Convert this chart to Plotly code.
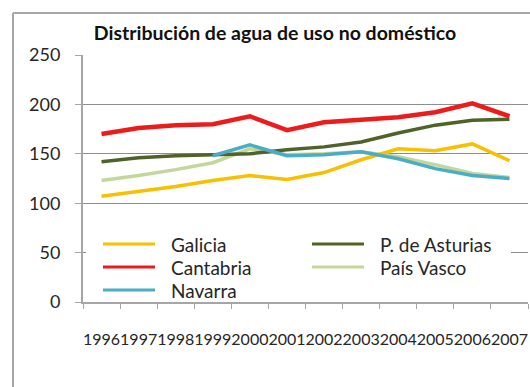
import plotly.graph_objects as go

# Water distributed for non-domestic use, by autonomous community
years = ["1996", "1997", "1998", "1999", "2000", "2001",
         "2002", "2003", "2004", "2005", "2006", "2007"]

galicia = [107, 112, 117, 123, 128, 124, 131, 144, 155, 153, 160, 143]
cantabria = [170, 176, 179, 180, 188, 174, 182, 185, 187, 192, 201, 188]
navarra = [None, None, None, 148, 159, 148, 149, 152, 145, 135, 128, 125]
asturias = [142, 146, 148, 149, 150, 154, 157, 162, 171, 179, 184, 185]
pais_vasco = [123, 128, 134, 141, 155, 149, 150, 152, 147, 139, 130, 126]

y_ticks = [0, 50, 100, 150, 200, 250]

series = [
    # name, values, colour, line width
    ("País Vasco", pais_vasco, "#C3D69B", 3.5),
    ("P. de Asturias", asturias, "#4F6228", 3.5),
    ("Galicia", galicia, "#F7C000", 3.5),
    ("Navarra", navarra, "#4BACC6", 3.5),
    ("Cantabria", cantabria, "#EC1C1C", 4.5),
]

# figure geometry (pixels)
W, H = 530, 387
L, R, T, B = 83, 528, 55, 302
PW, PH = R - L, B - T


def px_x(x):
    return (x - L) / PW


def px_y(y):
    return (B - y) / PH


FONT = "Lato, Open Sans, sans-serif"
GRID = "#8E8E8E"
AXIS = "#A6A6A6"
TEXT = "#262626"

fig = go.Figure()
for name, vals, color, width in series:
    fig.add_trace(go.Scatter(
        x=years, y=vals, name=name, mode="lines",
        line=dict(color=color, width=width),
        showlegend=False,
    ))

shapes = []
annotations = []

# outer chart-area frame (left and top edges visible)
shapes.append(dict(type="line", xref="paper", yref="paper",
                   x0=px_x(13), x1=px_x(13), y0=px_y(13), y1=px_y(400),
                   line=dict(color="#A6A6A6", width=2)))
shapes.append(dict(type="line", xref="paper", yref="paper",
                   x0=px_x(13), x1=px_x(545), y0=px_y(13), y1=px_y(13),
                   line=dict(color="#A6A6A6", width=2)))

# legend box
shapes.append(dict(type="rect", xref="paper", yref="paper", layer="above",
                   x0=px_x(86), x1=px_x(511), y0=px_y(224), y1=px_y(299),
                   fillcolor="white", line=dict(width=0)))

legend_layout = {
    "Galicia": (103, 244),
    "P. de Asturias": (312, 244),
    "Cantabria": (103, 267),
    "País Vasco": (312, 267),
    "Navarra": (103, 290),
}
colors = {name: color for name, _, color, _ in series}
for name, (lx, ly) in legend_layout.items():
    shapes.append(dict(type="line", xref="paper", yref="paper", layer="above",
                       x0=px_x(lx), x1=px_x(lx + 52), y0=px_y(ly), y1=px_y(ly),
                       line=dict(color=colors[name], width=3)))
    annotations.append(dict(text=name, xref="paper", yref="paper",
                            x=px_x(lx + 66), y=px_y(ly), xanchor="left",
                            yanchor="middle", showarrow=False,
                            font=dict(family=FONT, size=19, color=TEXT)))

fig.update_layout(
    width=W, height=H,
    margin=dict(l=L, r=W - R, t=T, b=H - B, pad=0),
    paper_bgcolor="white", plot_bgcolor="white",
    title=dict(text="<b>Distribución de agua de uso no doméstico</b>",
               x=275 / W, xanchor="center", xref="container",
               y=1 - 33 / H, yanchor="middle",
               font=dict(family=FONT, size=19.5, color="#111111")),
    shapes=shapes,
    annotations=annotations,
    showlegend=False,
)

fig.update_xaxes(
    type="category", range=[-0.5, len(years) - 0.5],
    tickmode="array", tickvals=years, ticktext=years, tickangle=0,
    showgrid=False, showline=True, linecolor=AXIS, linewidth=2,
    ticks="outside", ticklen=5, tickcolor=AXIS, tickwidth=1,
    tickson="boundaries", ticklabelstandoff=22,
    tickfont=dict(family=FONT, size=16, color=TEXT),
    zeroline=False, fixedrange=True,
)
fig.update_yaxes(
    range=[0, 250], tickmode="array", tickvals=y_ticks,
    showgrid=True, gridcolor=GRID, gridwidth=1,
    showline=True, linecolor=AXIS, linewidth=2,
    ticks="outside", ticklen=6, tickcolor=AXIS, tickwidth=1,
    ticklabelstandoff=11,
    tickfont=dict(family=FONT, size=18, color=TEXT),
    zeroline=False, fixedrange=True,
)

fig.write_html("out.html")
